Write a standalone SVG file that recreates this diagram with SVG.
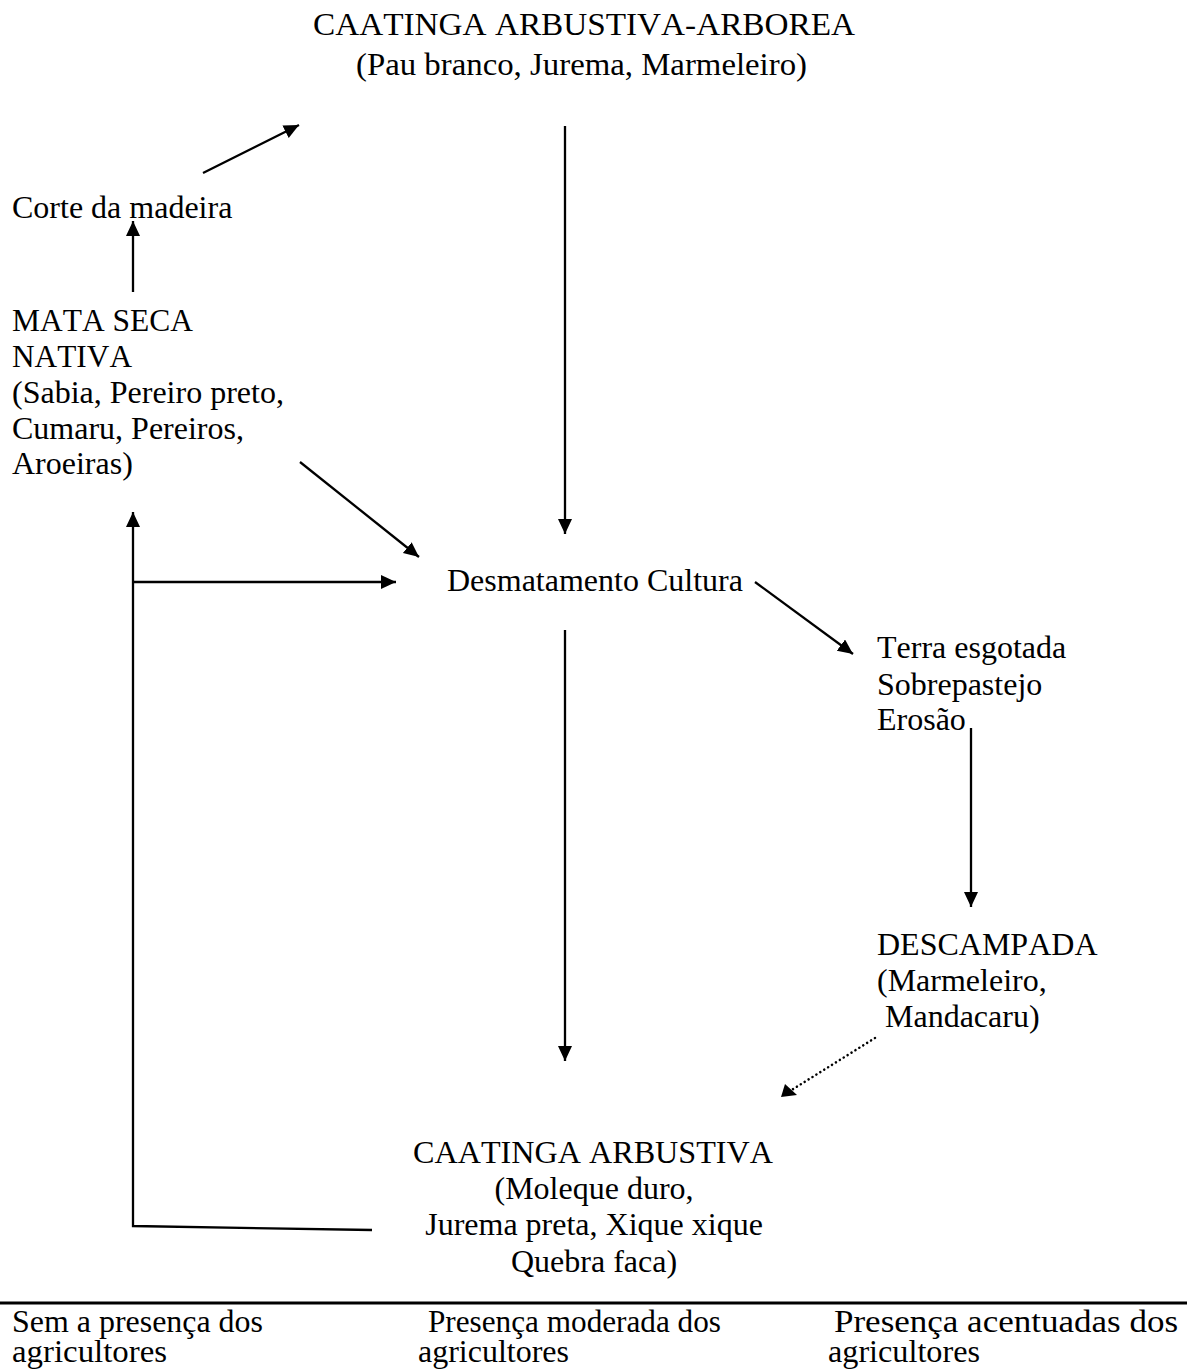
<svg xmlns="http://www.w3.org/2000/svg" width="1187" height="1369" viewBox="0 0 1187 1369">
<style>
text { font-family: "Liberation Serif", "Times New Roman", Tinos, "DejaVu Serif", serif; font-size: 32px; fill: #000; font-kerning: none; }
.c { text-anchor: middle; }
.lg { font-size: 31px; }
.ln { stroke: #000; stroke-width: 2.3; fill: none; }
.dot { stroke: #000; stroke-width: 2.5; fill: none; stroke-dasharray: 0.1 4.5; stroke-linecap: round; }
</style>
<defs>
<marker id="ah" markerUnits="userSpaceOnUse" markerWidth="18" markerHeight="16" refX="15" refY="7" orient="auto">
<path d="M0,0 L15,7 L0,14 z" fill="#000"/>
</marker>
</defs>
<rect width="1187" height="1369" fill="#fff"/>
<g id="caatinga-arbustiva-arborea">
<text x="313" y="35" textLength="542" lengthAdjust="spacingAndGlyphs">CAATINGA ARBUSTIVA-ARBOREA</text>
<text x="356" y="75" textLength="451" lengthAdjust="spacingAndGlyphs">(Pau branco, Jurema, Marmeleiro)</text>
</g>
<g id="corte-madeira">
<text x="12" y="218">Corte da madeira</text>
</g>
<g id="mata-seca">
<text x="12" y="331" textLength="181" lengthAdjust="spacingAndGlyphs">MATA SECA</text>
<text x="12" y="367" textLength="120" lengthAdjust="spacingAndGlyphs">NATIVA</text>
<text x="12" y="403">(Sabia, Pereiro preto,</text>
<text x="12" y="439">Cumaru, Pereiros,</text>
<text x="12" y="474">Aroeiras)</text>
</g>
<g id="desmatamento">
<text x="447" y="591">Desmatamento Cultura</text>
</g>
<g id="terra-esgotada">
<text x="877" y="658">Terra esgotada</text>
<text x="877" y="695">Sobrepastejo</text>
<text x="877" y="730">Erosão</text>
</g>
<g id="descampada">
<text x="877" y="955">DESCAMPADA</text>
<text x="877" y="991">(Marmeleiro,</text>
<text x="877" y="1027" xml:space="preserve"> Mandacaru)</text>
</g>
<g id="caatinga-arbustiva">
<text x="413" y="1163" textLength="360" lengthAdjust="spacingAndGlyphs">CAATINGA ARBUSTIVA</text>
<text class="c" x="594" y="1199">(Moleque duro,</text>
<text class="c" x="594" y="1235">Jurema preta, Xique xique</text>
<text class="c" x="594" y="1272">Quebra faca)</text>
</g>
<g id="connectors">
<line class="ln" x1="203" y1="173" x2="299" y2="125" marker-end="url(#ah)"/>
<line class="ln" x1="133" y1="292" x2="133" y2="221" marker-end="url(#ah)"/>
<line class="ln" x1="565" y1="126" x2="565" y2="534" marker-end="url(#ah)"/>
<line class="ln" x1="300" y1="462" x2="419" y2="557" marker-end="url(#ah)"/>
<line class="ln" x1="133" y1="582" x2="396" y2="582" marker-end="url(#ah)"/>
<line class="ln" x1="755" y1="582" x2="853" y2="654" marker-end="url(#ah)"/>
<line class="ln" x1="971" y1="728" x2="971" y2="907" marker-end="url(#ah)"/>
<line class="ln" x1="565" y1="630" x2="565" y2="1061" marker-end="url(#ah)"/>
<line class="dot" x1="875" y1="1038" x2="790" y2="1091"/>
<path d="M781,1097 L785,1084 L797,1095 z" fill="#000"/>
<polyline class="ln" points="372,1230 133,1226 133,512" marker-end="url(#ah)"/>
</g>
<g id="legend">
<line x1="0" y1="1303" x2="1187" y2="1303" stroke="#000" stroke-width="3"/>
<text class="lg" x="12" y="1332" textLength="251" lengthAdjust="spacingAndGlyphs">Sem a presença dos</text>
<text class="lg" x="12" y="1362" textLength="155" lengthAdjust="spacingAndGlyphs">agricultores</text>
<text class="lg" x="428" y="1332" textLength="293" lengthAdjust="spacingAndGlyphs">Presença moderada dos</text>
<text class="lg" x="418" y="1362" textLength="151" lengthAdjust="spacingAndGlyphs">agricultores</text>
<text class="lg" x="834" y="1332" textLength="344" lengthAdjust="spacingAndGlyphs">Presença acentuadas dos</text>
<text class="lg" x="828" y="1362" textLength="152" lengthAdjust="spacingAndGlyphs">agricultores</text>
</g>
</svg>
